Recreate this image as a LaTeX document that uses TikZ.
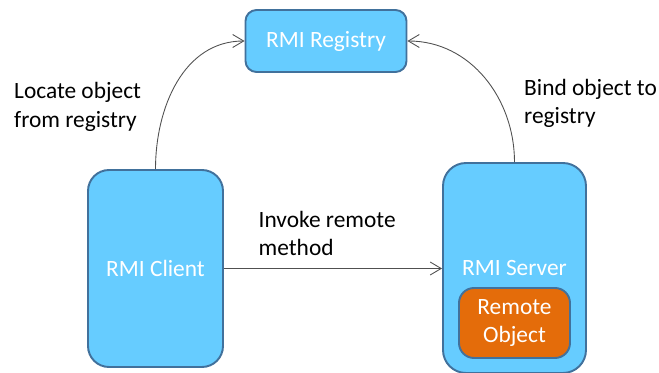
\documentclass[tikz,border=0pt]{standalone}
\usepackage{fontspec}
\setmainfont{Carlito}
\usetikzlibrary{arrows.meta}

\definecolor{boxblue}{HTML}{66CCFF}
\definecolor{edgeblue}{HTML}{41719C}
\definecolor{objorange}{HTML}{E46C0A}
\definecolor{linkgray}{HTML}{505050}

\begin{document}
\begin{tikzpicture}[every node/.style={font=\fontsize{13.3}{16.2}\selectfont},
  rmibox/.style={draw=edgeblue, line width=1.1pt, fill=boxblue, text=white},
  link/.style={draw=linkgray, line width=0.5pt, -{Straight Barb[length=2.2mm,width=2.6mm]}}]
  \useasboundingbox (0,0) rectangle (13.18,7.44);
  % Kasser
  \node[rmibox, rounded corners=0.22cm, minimum width=3.22cm, minimum height=1.24cm]
    (registry) at (6.52,6.62) {RMI Registry};
  \node[rmibox, rounded corners=0.42cm, minimum width=2.70cm, minimum height=3.94cm]
    (client) at (3.11,2.07) {RMI Client};
  \node[rmibox, rounded corners=0.46cm, minimum width=2.86cm, minimum height=4.20cm]
    (server) at (10.29,2.08) {};
  \node[text=white] (servertext) at (10.29,2.08) {RMI Server};
  \node[rmibox, fill=objorange, rounded corners=0.3cm, minimum width=2.22cm,
    minimum height=1.40cm, align=center] (remote) at (10.29,0.98) {Remote\\Object};
  % Piler
  \draw[link] (client.north) to[out=90, in=180] (registry.west);
  \draw[link] (server.north) to[out=90, in=0] (registry.east);
  \draw[link] (client.east) -- (client.east -| server.west);
  % Tekster
  \node[right, align=left] (locate) at (0.16,5.30) {Locate object\\from registry};
  \node[right, align=left] (bind) at (10.36,5.37) {Bind object to\\registry};
  \node[right, align=left] (invoke) at (5.05,2.77) {Invoke remote\\method};
\end{tikzpicture}
\end{document}
